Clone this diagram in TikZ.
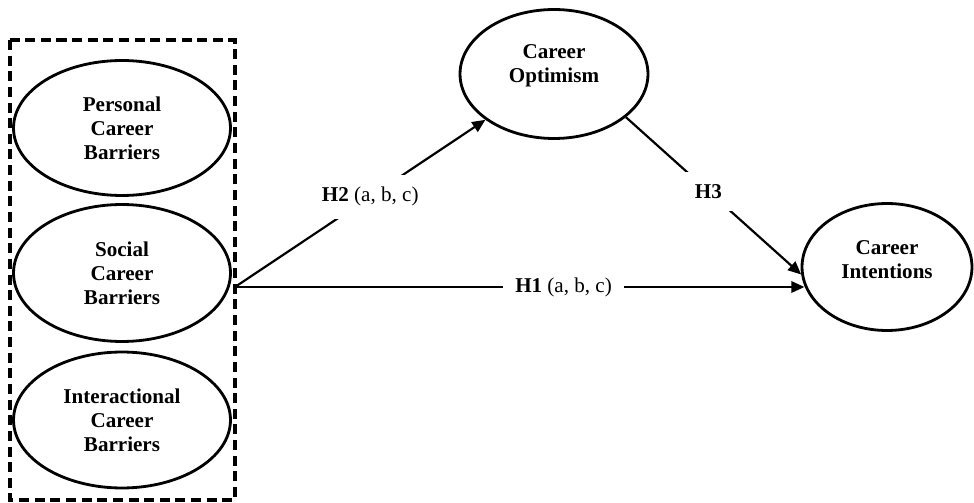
\documentclass[tikz,border=0pt]{standalone}
\usepackage{fontspec}
\setmainfont{Liberation Serif}
\usetikzlibrary{shapes.geometric, arrows.meta}

\tikzset{
    construct/.style={draw, ellipse, line width=1.6pt, align=center,
        font=\bfseries\fontsize{12}{13.6}\selectfont},
    captext/.style={align=center, font=\bfseries\fontsize{12}{13.6}\selectfont},
    hyp/.style={fill=white, inner sep=7pt, font=\fontsize{12}{14}\selectfont},
    groupbox/.style={line width=2.2pt, dash pattern=on 5.7pt off 3.2pt}
}

\begin{document}
\begin{tikzpicture}[x=0.02cm, y=-0.02cm, >={Stealth[length=7.5pt, width=6.5pt, inset=0pt]}, line width=1.25pt]
    \useasboundingbox (0, 0) rectangle (974, 503);

    % Nodes
    \node[construct, minimum width=4.34cm, minimum height=2.7cm] at (122, 128) (pcb) {Personal\\Career\\Barriers};
    \node[construct, minimum width=4.34cm, minimum height=2.74cm] at (122, 273) (scb) {Social\\Career\\Barriers};
    \node[construct, minimum width=4.34cm, minimum height=2.72cm] at (122, 420) (icb) {Interactional\\Career\\Barriers};
    \node[construct, minimum width=3.76cm, minimum height=2.58cm] at (554, 74) (co) {};
    \node[captext] at (554, 66) (cotext) {Career\\Optimism};
    \node[construct, minimum width=3.4cm, minimum height=2.54cm] at (887, 267) (ci) {};
    \node[captext] at (887, 260) (citext) {Career\\Intentions};

    % Group
    \draw[groupbox] (10, 40) rectangle (235, 500);
    \coordinate (src) at (235, 287);

    % Edges
    \draw[->] (src) -- (co)
        node[pos=0.54, hyp] {\textbf{H2} (a, b, c)};

    \draw[->] (src) -- (src -| ci.193)
        node[pos=0.577, hyp] {\textbf{H1} (a, b, c)};

    \draw[->] (co.-31) -- (ci.185)
        node[pos=0.47, hyp] {\textbf{H3}};
\end{tikzpicture}
\end{document}
